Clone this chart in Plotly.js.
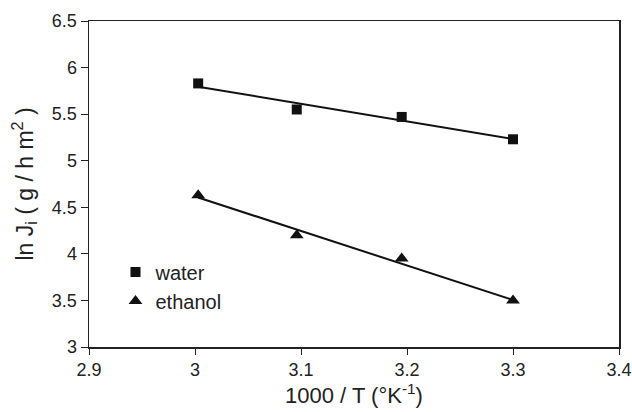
<!DOCTYPE html>
<html>
<head>
<meta charset="utf-8">
<script src="https://cdn.plot.ly/plotly-3.0.1.min.js"></script>
<style>html,body{margin:0;padding:0;background:#fff;}#chart{width:632px;height:412px;}</style>
</head>
<body>
<div id="chart"></div>
<script>
const invT = [3.003, 3.096, 3.195, 3.300];
const waterLnJ = [5.83, 5.55, 5.47, 5.23];
const ethanolLnJ = [4.63, 4.20, 3.95, 3.50];
const fitX = [3.003, 3.300];
const waterFit = [5.795, 5.232];
const ethanolFit = [4.605, 3.505];
const xTicks = [2.9, 3, 3.1, 3.2, 3.3, 3.4];
const yTicks = [3, 3.5, 4, 4.5, 5, 5.5, 6, 6.5];

const ink = '#111';
const traces = [
  {x: fitX, y: waterFit, mode: 'lines', line: {color: ink, width: 2}, showlegend: false, hoverinfo: 'skip'},
  {x: fitX, y: ethanolFit, mode: 'lines', line: {color: ink, width: 2}, showlegend: false, hoverinfo: 'skip'},
  {x: invT, y: waterLnJ, mode: 'markers', name: 'water', legendgroup: 'a',
   marker: {symbol: 'square', size: 10, color: ink}},
  {x: invT, y: ethanolLnJ, mode: 'markers', name: 'ethanol', legendgroup: 'b',
   marker: {symbol: 'triangle-up', size: 12, color: ink}}
];

const fam = 'Liberation Sans, Arial, Helvetica, sans-serif';
const axisCommon = {
  showline: true, mirror: true, linecolor: '#222', linewidth: 1.5,
  ticks: 'outside', ticklen: 7, tickcolor: '#222', tickwidth: 1,
  showgrid: false, zeroline: false,
  tickfont: {family: fam, size: 18, color: '#222'}
};

const layout = {
  width: 632, height: 412,
  margin: {l: 89, r: 13, t: 21, b: 65},
  paper_bgcolor: '#fff', plot_bgcolor: '#fff',
  font: {family: fam, color: '#222'},
  xaxis: Object.assign({}, axisCommon, {
    range: [2.9, 3.4], tickvals: xTicks, ticktext: xTicks.map(String), ticklen: 6,
    title: {text: '1000 / T (°K<sup>-1</sup>)', font: {family: fam, size: 22, color: '#222'}, standoff: 8}
  }),
  yaxis: Object.assign({}, axisCommon, {
    range: [3, 6.5], tickvals: yTicks, ticktext: yTicks.map(String),
    title: {text: 'ln J<sub>i</sub> ( g / h m<sup>2</sup> )', font: {family: fam, size: 23, color: '#222'}, standoff: 12}
  }),
  legend: {
    x: 0.05, y: 0.29, xanchor: 'left', yanchor: 'top',
    bgcolor: 'rgba(0,0,0,0)', font: {family: fam, size: 20, color: '#222'},
    traceorder: 'grouped', tracegroupgap: 0, itemwidth: 30
  },
  showlegend: true
};

Plotly.newPlot('chart', traces, layout, {displayModeBar: false, staticPlot: true});
</script>
</body>
</html>
